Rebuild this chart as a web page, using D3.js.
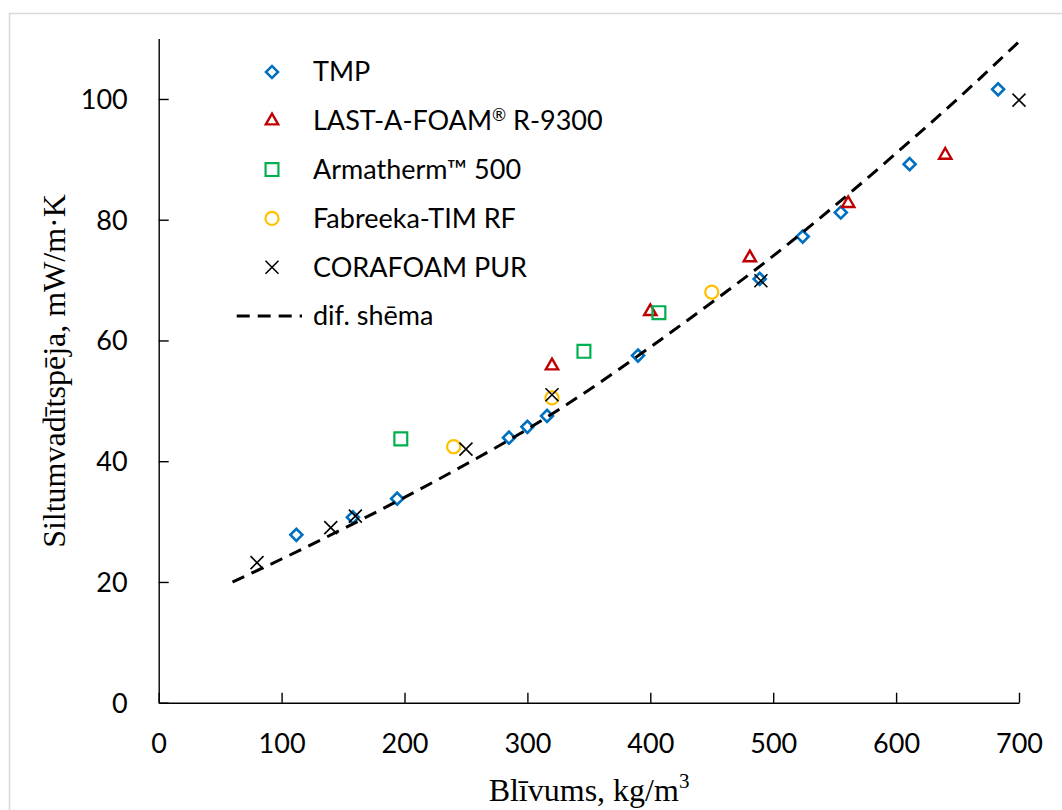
<!DOCTYPE html>
<html>
<head>
<meta charset="utf-8">
<script src="https://cdn.jsdelivr.net/npm/d3@7"></script>
<style>
body{margin:0;background:#fff;}
svg{display:block;}
.tick text{font-family:Lato,"Open Sans",sans-serif;font-size:27px;fill:#000;}
</style>
</head>
<body>
<div id="chart"></div>
<script>
// data
const tmpX = [112, 158, 194, 285, 300, 316, 390, 489, 524, 555, 611, 683];
const tmpY = [27.8, 30.7, 33.8, 43.9, 45.7, 47.5, 57.5, 70.2, 77.2, 81.2, 89.2, 101.6];
const lastX = [320, 400, 481, 561, 640];
const lastY = [55.8, 64.8, 73.7, 82.7, 90.7];
const armX = [197, 346, 407];
const armY = [43.7, 58.2, 64.6];
const fabX = [240, 320, 450];
const fabY = [42.4, 50.5, 68.0];
const coraX = [80, 140, 160, 250, 320, 490, 700];
const coraY = [23.2, 29.0, 30.9, 42.0, 51.0, 69.9, 99.8];
const difX = [60, 100, 150, 200, 250, 300, 350, 400, 450, 500, 550, 600, 650, 700];
const difY = [20.0, 23.8, 28.8, 34.0, 39.5, 45.3, 51.8, 58.9, 66.3, 74.0, 82.3, 91.0, 100.0, 109.5];
const xTicks = [0, 100, 200, 300, 400, 500, 600, 700];
const yTicks = [0, 20, 40, 60, 80, 100];
const seriesNames = ["TMP", "LAST-A-FOAM® R-9300", "Armatherm™ 500", "Fabreeka-TIM RF", "CORAFOAM PUR", "dif. shēma"];

const width = 1062, height = 810;
let svg = d3.select("#chart").append("svg").attr("width", width).attr("height", height);

// outer chart frame
svg.append("rect").attr("x", 9.5).attr("y", 13.5).attr("width", 1100).attr("height", 900)
  .attr("fill", "none").attr("stroke", "#d9d9d9").attr("stroke-width", 1.5);

let scaleX = d3.scaleLinear().domain([0, 700]).range([158.7, 1019]);
let scaleY = d3.scaleLinear().domain([0, 110]).range([702.7, 38.6]);

/*axes*/
let axisX = d3.axisBottom(scaleX).tickValues(xTicks).tickSizeInner(-10).tickSizeOuter(0).tickPadding(31);
let axisY = d3.axisLeft(scaleY).tickValues(yTicks).tickSizeInner(-10).tickSizeOuter(0).tickPadding(31);

let gx = svg.append("g").attr("transform", "translate(0," + scaleY(0) + ")").call(axisX);
let gy = svg.append("g").attr("transform", "translate(" + scaleX(0) + ",0)").call(axisY);
[gx, gy].forEach(g => {
  g.select(".domain").attr("stroke", "#000").attr("stroke-width", 1.4);
  g.selectAll(".tick line").attr("stroke", "#000").attr("stroke-width", 1.4);
});
gy.selectAll(".tick text").attr("dy", "0.35em");

// axis titles
svg.append("text").attr("x", 589).attr("y", 801).attr("text-anchor", "middle")
  .style("font-family", "'Liberation Serif','Times New Roman',serif").style("font-size", "32px")
  .text("Blīvums, kg/m").append("tspan").attr("dy", -13).style("font-size", "21px").text("3");
svg.append("text").attr("transform", "translate(65,371) rotate(-90)").attr("text-anchor", "middle")
  .style("font-family", "'Liberation Serif','Times New Roman',serif").style("font-size", "32px")
  .text("Siltumvadītspēja, mW/m·K");

// markers
const symDiamond = d3.symbol().type(d3.symbolSquare).size(72)();
const symTriangle = d3.symbol().type(d3.symbolTriangle).size(66)();
const symSquare = d3.symbol().type(d3.symbolSquare).size(165)();
const symCircle = d3.symbol().type(d3.symbolCircle).size(135)();
const symX = "M-6.5,-6.5L6.5,6.5M-6.5,6.5L6.5,-6.5";

const styles = [
  {path: symDiamond, color: "#0070C0", sw: 2.6, rot: 45},
  {path: symTriangle, color: "#C00000", sw: 2.4, rot: 0},
  {path: symSquare, color: "#00B050", sw: 2.2, rot: 0},
  {path: symCircle, color: "#FFC000", sw: 2.2, rot: 0},
  {path: symX, color: "#000", sw: 1.6, rot: 0}
];
const series = [[tmpX, tmpY], [lastX, lastY], [armX, armY], [fabX, fabY], [coraX, coraY]];

series.forEach((s, i) => {
  let pts = s[0].map((x, j) => [x, s[1][j]]);
  svg.append("g").selectAll("path").data(pts).enter().append("path")
    .attr("d", styles[i].path)
    .attr("transform", d => "translate(" + scaleX(d[0]) + "," + scaleY(d[1]) + ") rotate(" + styles[i].rot + ")")
    .attr("fill", "none").attr("stroke", styles[i].color).attr("stroke-width", styles[i].sw);
});

// dif. shema line
let difData = difX.map((x, i) => [x, difY[i]]);
let line = d3.line().x(d => scaleX(d[0])).y(d => scaleY(d[1])).curve(d3.curveMonotoneX);
svg.append("path").datum(difData).attr("d", line).attr("fill", "none")
  .attr("stroke", "#000").attr("stroke-width", 3).attr("stroke-dasharray", "13,8");

// legend
let legend = svg.append("g").attr("transform", "translate(272,72)");
seriesNames.forEach((name, i) => {
  let row = legend.append("g").attr("transform", "translate(0," + i * 48.8 + ")");
  if (i < 5) {
    row.append("path").attr("d", styles[i].path).attr("transform", "rotate(" + styles[i].rot + ")")
      .attr("fill", "none").attr("stroke", styles[i].color).attr("stroke-width", styles[i].sw);
  } else {
    row.append("line").attr("x1", -35.3).attr("x2", 30).attr("y1", 0).attr("y2", 0)
      .attr("stroke", "#000").attr("stroke-width", 3).attr("stroke-dasharray", "13,8");
  }
  let t = row.append("text").attr("x", 41).attr("dy", "0.35em")
    .style("font-family", "Lato,'Open Sans',sans-serif").style("font-size", "27px");
  // registered sign is raised and small, like the original
  let parts = name.split("®");
  t.append("tspan").text(parts[0]);
  if (parts.length > 1) {
    t.append("tspan").attr("dy", -9).style("font-size", "17px").text("®");
    t.append("tspan").attr("dy", 9).text(parts[1]);
  }
});
</script>
</body>
</html>
